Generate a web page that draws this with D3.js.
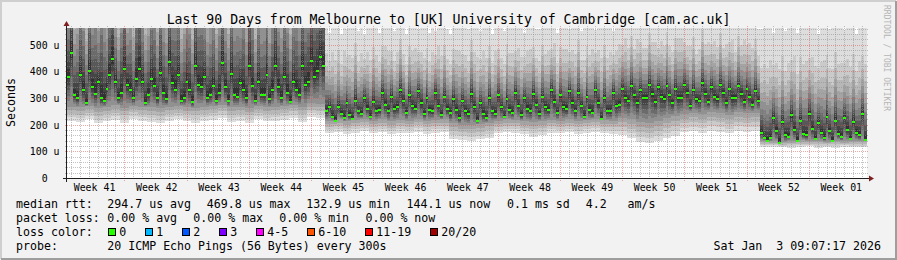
<!DOCTYPE html>
<html><head><meta charset="utf-8">
<script src="https://cdn.jsdelivr.net/npm/d3@7/dist/d3.min.js"></script>
<style>
html,body{margin:0;padding:0;background:#f2f2f2;overflow:hidden}
svg{display:block}
text{font-family:"DejaVu Sans Mono",monospace;fill:#000}
</style>
</head><body>
<svg id="chart" width="897" height="260"></svg>
<script>
// ---------------- data ----------------
const titleText = "Last 90 Days from Melbourne to [UK] University of Cambridge [cam.ac.uk]";
const totalDays = 90;
const stepsPerDay = 3;              // samples every 8 hours
// median RTT (microseconds), 3 samples per day, day 0 .. day 89
const medianRtt = [
 380,470,310, 300,385,330, 280,400,340, 315,360,300, 290,335,385, 445,360,300, 320,410,350,
 330,300,370, 410,360,280, 310,370,345, 300,395,320, 295,435,355, 330,385,290, 300,360,330,
 285,420,350, 340,380,300, 310,345,290, 320,430,340, 290,390,310, 305,355,330, 300,420,345,
 290,360,310, 310,385,295, 330,420,340, 300,380,320, 285,360,330, 310,420,350, 360,440,380,
 400,455,420,
 250,265,230, 215,265,240, 225,280,235, 220,290,250, 240,300,260, 230,285,250, 255,320,275,
 250,305,260, 265,330,290, 245,310,270, 260,325,280, 240,300,255, 250,320,270, 235,305,260,
 245,295,255, 225,290,250, 240,315,265, 215,280,240, 225,300,250, 240,310,265, 230,295,255,
 245,320,270, 235,300,260, 250,315,275, 240,305,265, 255,330,285, 245,310,265, 260,325,280,
 250,320,270, 230,305,255, 245,330,280, 220,300,250, 250,320,270,
 275,335,300, 290,345,310, 280,330,300, 300,350,315, 285,340,305, 295,345,310, 280,335,300,
 300,350,320, 270,330,295, 290,355,315, 285,340,305, 295,350,320, 280,335,300, 300,345,315,
 285,335,305, 275,325,290,
 170,150,140, 150,225,175, 133,210,160, 155,235,180, 140,215,165, 160,240,185, 145,205,170,
 150,230,175, 140,215,165, 155,225,180, 145,210,170, 160,240,144
];
// highest ping of the 20 (microseconds), 3 samples per day
const maxPing = [
 1200,1700,950, 1100,1500,1300, 900,1600,1200, 1400,1000,1700, 1250,950,1550, 1800,1100,900,
 1300,1650,1000, 1150,900,1500, 1700,1250,950, 1050,1450,1350, 950,1600,1150, 1000,1750,1300,
 1400,1500,900, 1100,1300,1250, 900,1700,1400, 1500,1200,1000, 1150,1350,950, 1250,1800,1100,
 950,1550,1200, 1300,1100,1450, 1000,1700,1350, 900,1400,1150, 1200,1550,1000, 1350,1750,1250,
 1050,1500,1300, 950,1350,1400, 1200,1700,1300, 1450,1800,1500, 1600,1850,1700,
 600,545,620, 580,610,540, 630,560,600, 590,640,550, 610,535,600, 570,620,590, 545,600,630,
 615,580,550, 600,640,570, 540,610,600, 625,560,590, 580,600,545, 610,550,635, 595,620,560,
 540,600,615, 630,575,590, 560,640,600, 600,550,620, 585,615,540, 620,590,565, 550,630,600,
 605,575,620, 590,545,610, 630,600,560, 560,620,590, 610,580,640, 545,600,615, 620,560,600,
 595,640,550, 575,610,590, 630,555,605, 590,620,570, 610,550,600,
 640,600,660, 610,650,590, 670,620,600, 600,660,630, 650,580,640, 620,670,610, 590,640,660,
 660,610,600, 630,650,570, 600,680,620, 650,600,640, 610,660,590, 640,620,650, 580,650,610,
 660,600,630, 620,640,560,
 560,600,580, 620,545,590, 580,610,550, 600,570,630, 545,600,590, 610,580,620, 590,540,600,
 620,600,560, 575,630,590, 600,555,610, 585,620,540, 610,590,600
];
// lowest ping of the 20 (microseconds), per day
const minPing = [
 215,210,220,205,212,218,208,222,215,210,205,215,220,212,208,215,218,225,210,215,208,220,212,215,218,225,210,230,225,
 168,172,165,170,175,168,172,165,170,168,174,166,170,172,148,142,140,145,150,168,172,170,165,155,160,170,168,172,166,170,174,168,165,
 160,150,135,130,140,150,158,172,175,170,178,174,168,176,172,175,
 116,118,115,112,116,120,114,117,113,118,115,116
];
// 5th ping of the 20 (microseconds), per day
const lowerPing = [
 268,265,270,262,266,272,264,270,268,265,262,268,270,266,264,268,270,275,265,268,262,270,266,268,270,275,268,280,278,
 215,220,212,218,222,215,220,212,218,215,222,214,218,220,205,200,198,202,208,215,220,218,212,210,212,218,215,220,214,218,222,216,214,
 225,220,210,205,215,225,232,240,245,240,248,244,238,246,242,245,
 140,138,135,140,142,138,140,136,140,138,140,139
];
// relative position of upper pings 20,19,...,11 between median and max
const upperShape = [1, 0.62, 0.48, 0.38, 0.30, 0.23, 0.17, 0.12, 0.07, 0.035];

const yMax = 562.5;
const yTickValues = [0, 100, 200, 300, 400, 500];
const yTickLabels = ["0  ", "100 u", "200 u", "300 u", "400 u", "500 u"];
const firstWeekDay = 6.45;          // first week boundary (days from start)
const firstDayLine = 0.45;
const weekLabels = ["Week 41","Week 42","Week 43","Week 44","Week 45","Week 46","Week 47",
                    "Week 48","Week 49","Week 50","Week 51","Week 52","Week 01"];
const lossLabels = ["0","1","2","3","4-5","6-10","11-19","20/20"];
const lossColors = ["#26ff00","#00b8ff","#0059ff","#7e00ff","#ff00ff","#ff5500","#ff0000","#a10000"];
const rttLegend = ["median rtt:", "294.7 us avg", "469.8 us max", "132.9 us min", "144.1 us now", "0.1 ms sd", "4.2   am/s"];
const lossLegend = ["packet loss:", "0.00 % avg", "0.00 % max", "0.00 % min", "0.00 % now"];
const probeLabel = "probe:";
const probeText = "20 ICMP Echo Pings (56 Bytes) every 300s";
const dateText = "Sat Jan  3 09:07:17 2026";
const watermark = "RRDTOOL / TOBI OETIKER";

// ---------------- layout ----------------
const W = 897, H = 260;
const X0 = 67, X1 = 867, Y0 = 178, Y1 = 28;
const svg = d3.select("#chart");
const x = d3.scaleLinear().domain([0, totalDays]).range([X0, X1]);
const y = d3.scaleLinear().domain([0, yMax]).range([Y0, Y1]);

// background + shade border
svg.append("rect").attr("width", W).attr("height", H).attr("fill", "#f2f2f2");
svg.append("path").attr("d", `M1,${H-1}V1H${W-1}`).attr("stroke", "#cfcfcf").attr("stroke-width", 2).attr("fill", "none");
svg.append("path").attr("d", `M1,${H-1}H${W-1}V1`).attr("stroke", "#9e9e9e").attr("stroke-width", 2).attr("fill", "none");
// canvas
svg.append("rect").attr("x", X0).attr("y", Y1).attr("width", X1 - X0).attr("height", Y0 - Y1).attr("fill", "#fff");

const clip = svg.append("defs").append("clipPath").attr("id", "plot");
clip.append("rect").attr("x", X0).attr("y", Y1).attr("width", X1 - X0).attr("height", Y0 - Y1);

// ---------------- smoke ----------------
const half = 10;
const smokeG = svg.append("g").attr("clip-path", "url(#plot)").attr("shape-rendering", "crispEdges");
const bands = [];
medianRtt.forEach((med, i) => {
  const day = Math.floor(i / stepsPerDay);
  const lo = minPing[day], hi = maxPing[i];
  const q = Math.min(lowerPing[day], med);
  for (let k = 1; k <= half; k++) {
    const low = k <= 5 ? lo + (q - lo) * (k - 1) / 4 : q + (med - q) * (k - 5) / 5.5;
    const up = med + (hi - med) * upperShape[k - 1];
    const c = Math.floor(190 / half * (half - k)) + 50;
    bands.push({t0: i / stepsPerDay, t1: (i + 1) / stepsPerDay, low, up, c});
  }
});
smokeG.selectAll("rect").data(bands).join("rect")
  .attr("x", d => x(d.t0)).attr("width", d => x(d.t1) - x(d.t0))
  .attr("y", d => y(Math.min(d.up, yMax + 20)))
  .attr("height", d => y(d.low) - y(Math.min(d.up, yMax + 20)))
  .attr("fill", d => d3.rgb(d.c, d.c, d.c));

// ---------------- grid (drawn over the smoke) ----------------
const gridG = svg.append("g");
const minorY = d3.range(20, yMax, 20).filter(v => v % 100 !== 0);
gridG.selectAll(".hmin").data(minorY).join("line")
  .attr("x1", X0 - 2).attr("x2", X1 + 2)
  .attr("y1", d => Math.round(y(d)) + 0.5).attr("y2", d => Math.round(y(d)) + 0.5)
  .attr("stroke", "rgba(143,143,143,0.55)").attr("stroke-dasharray", "1,1");
const dayLines = d3.range(firstDayLine, totalDays, 1).filter(d => Math.abs(((d - firstWeekDay) % 7 + 7) % 7) > 0.01);
gridG.selectAll(".vmin").data(dayLines).join("line")
  .attr("x1", d => Math.round(x(d)) + 0.5).attr("x2", d => Math.round(x(d)) + 0.5)
  .attr("y1", Y1 - 2).attr("y2", Y0 + 2)
  .attr("stroke", "rgba(143,143,143,0.55)").attr("stroke-dasharray", "1,1");
gridG.selectAll(".hmaj").data(yTickValues.filter(v => v > 0)).join("line")
  .attr("x1", X0 - 2).attr("x2", X1 + 2)
  .attr("y1", d => Math.round(y(d)) + 0.5).attr("y2", d => Math.round(y(d)) + 0.5)
  .attr("stroke", "rgba(222,79,79,0.5)").attr("stroke-dasharray", "1,1");
const weekLines = d3.range(0, weekLabels.length - 1).map(k => firstWeekDay + 7 * k);
gridG.selectAll(".vmaj").data(weekLines).join("line")
  .attr("x1", d => Math.round(x(d)) + 0.5).attr("x2", d => Math.round(x(d)) + 0.5)
  .attr("y1", Y1 - 2).attr("y2", Y0 + 3)
  .attr("stroke", "rgba(222,79,79,0.5)").attr("stroke-dasharray", "1,1");

// ---------------- median ----------------
svg.append("g").attr("shape-rendering", "crispEdges").selectAll("rect").data(medianRtt).join("rect")
  .attr("x", (d, i) => x(i / stepsPerDay)).attr("width", (d, i) => x((i + 1) / stepsPerDay) - x(i / stepsPerDay))
  .attr("y", d => y(d) - 1).attr("height", 2).attr("fill", lossColors[0]);

// ---------------- axes ----------------
const axG = svg.append("g");
axG.append("line").attr("x1", X0 - 4).attr("x2", X1 + 4).attr("y1", Y0 + 0.5).attr("y2", Y0 + 0.5).attr("stroke", "#1f1f1f");
axG.append("line").attr("x1", X0 - 0.5).attr("x2", X0 - 0.5).attr("y1", Y0 + 4).attr("y2", Y1 - 4).attr("stroke", "#1f1f1f");
axG.append("path").attr("d", `M${X1 + 2},${Y0 - 2.5}L${X1 + 7},${Y0 + 0.5}L${X1 + 2},${Y0 + 3.5}Z`).attr("fill", "#801f1f");
axG.append("path").attr("d", `M${X0 - 3.5},${Y1 - 2}L${X0 - 0.5},${Y1 - 7}L${X0 + 2.5},${Y1 - 2}Z`).attr("fill", "#801f1f");

// y tick labels
svg.append("g").selectAll("text").data(yTickValues).join("text")
  .attr("x", 59.5).attr("y", d => Math.round(y(d)) + 4)
  .attr("text-anchor", "end").attr("font-size", "9.9px").attr("xml:space", "preserve")
  .text((d, i) => yTickLabels[i]);

// x labels
svg.append("g").selectAll("text").data(weekLabels).join("text")
  .attr("x", (d, i) => x(firstWeekDay + 7 * i - 3.35)).attr("y", 191)
  .attr("text-anchor", "middle").attr("font-size", "9.9px").text(d => d);

// title
svg.append("text").attr("x", 448.5).attr("y", 24).attr("text-anchor", "middle")
  .attr("font-size", "13.2px").text(titleText);

// y axis title
svg.append("text").attr("transform", "translate(15,102.5) rotate(-90)").attr("text-anchor", "middle")
  .attr("font-size", "11.6px").text("Seconds");

// watermark
svg.append("text").attr("transform", "translate(884,5) rotate(90)").attr("text-anchor", "start")
  .attr("font-size", "8px").style("fill", "#b5b5b5").text(watermark);

// legend
const LS = "11.6px";
const rttX = [16, 107.3, 206.8, 306.3, 406.5, 507, 585.7];
rttLegend.forEach((t, i) => svg.append("text").attr("x", rttX[i]).attr("y", 207.7)
  .attr("font-size", LS).attr("xml:space", "preserve").text(t));
const lossX = [16, 107.3, 193.3, 279.3, 365.5];
lossLegend.forEach((t, i) => svg.append("text").attr("x", lossX[i]).attr("y", 221.7)
  .attr("font-size", LS).attr("xml:space", "preserve").text(t));
svg.append("text").attr("x", 16).attr("y", 235.7).attr("font-size", LS).text("loss color:");
const boxX = [108, 145, 182, 219, 256, 307, 365, 430];
const lg = svg.append("g").selectAll("g").data(lossLabels).join("g");
lg.append("rect").attr("x", (d, i) => boxX[i] + 0.5).attr("y", 228.5).attr("width", 7).attr("height", 7)
  .attr("fill", (d, i) => lossColors[i]).attr("stroke", "#000").attr("stroke-width", 1);
lg.append("text").attr("x", (d, i) => boxX[i] + 11.3).attr("y", 235.7).attr("font-size", LS).text(d => d);
svg.append("text").attr("x", 16).attr("y", 249.7).attr("font-size", LS).text(probeLabel);
svg.append("text").attr("x", 107.3).attr("y", 249.7).attr("font-size", LS).text(probeText);
svg.append("text").attr("x", 881).attr("y", 249.7).attr("font-size", LS).attr("text-anchor", "end")
  .attr("xml:space", "preserve").text(dateText);
</script>
</body></html>
